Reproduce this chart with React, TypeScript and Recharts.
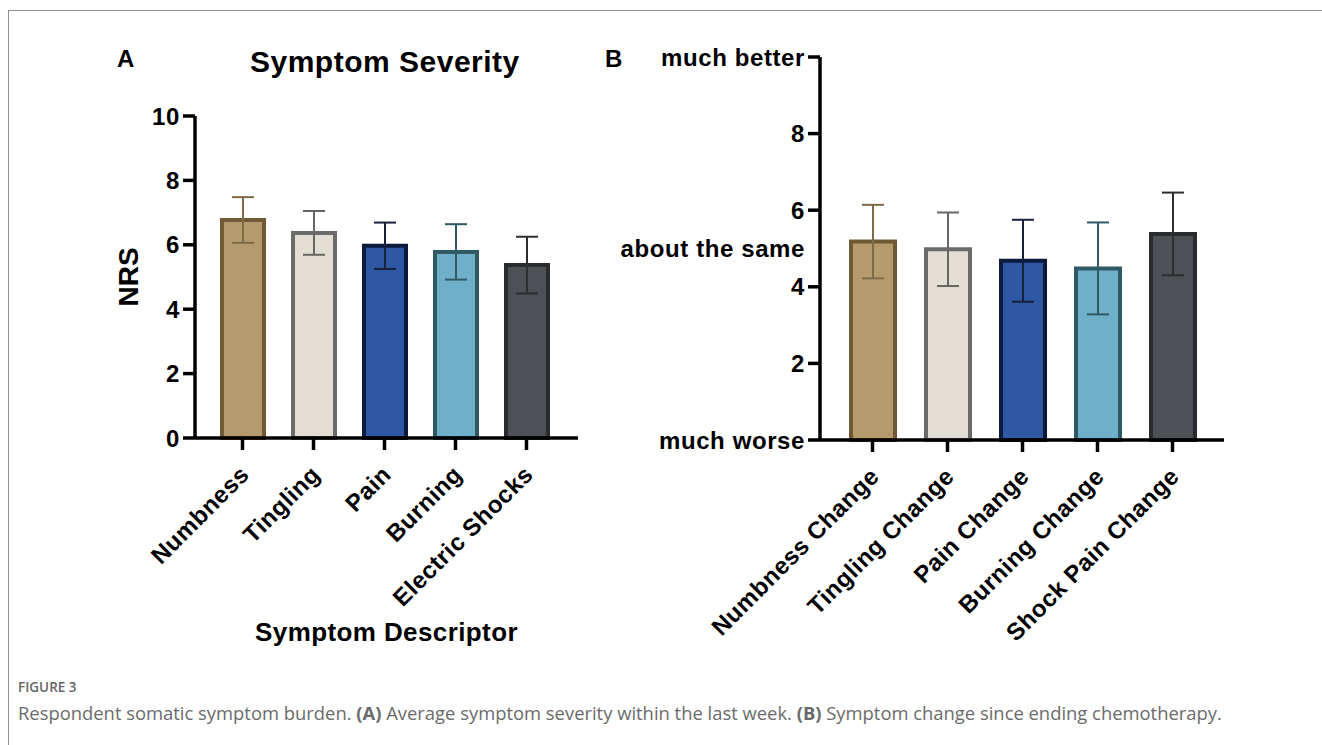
import React from 'react';
import { BarChart, Bar, XAxis, YAxis, ErrorBar, Cell, Label } from 'recharts';

// Panel A: symptom severity (NRS, mean with error)
const severityNames = ['Numbness', 'Tingling', 'Pain', 'Burning', 'Electric Shocks'];
const severityMeans = [6.77, 6.37, 5.97, 5.78, 5.37];
const severityErrors = [0.71, 0.68, 0.72, 0.86, 0.88];
const severityTicks = [0, 2, 4, 6, 8, 10];

// Panel B: symptom change since ending chemotherapy
const changeNames = ['Numbness Change', 'Tingling Change', 'Pain Change', 'Burning Change', 'Shock Pain Change'];
const changeMeans = [5.18, 4.98, 4.68, 4.48, 5.38];
const changeErrors = [0.96, 0.96, 1.07, 1.2, 1.08];
const changeTicks = [0, 2, 4, 5, 6, 8, 10];
const changeTickNames: Record<number, string> = { 0: 'much worse', 5: 'about the same', 10: 'much better' };

const barFills = ['#b59a6e', '#e2ded3', '#2e58a4', '#70afc9', '#4d5055'];
const barStrokes = ['#6f5a35', '#6b6b69', '#0c1a3c', '#2f5964', '#2a2b2e'];
const errorStrokes = ['#7d6b47', '#666663', '#17213c', '#2f5964', '#2c2d30'];

const FONT = '"Liberation Sans", Arial, sans-serif';
const AXIS = { stroke: '#000', strokeWidth: 3.5 };

const tickText: React.CSSProperties = { fontFamily: FONT, fontWeight: 700, fontSize: 24, letterSpacing: '0.6px', fill: '#000' };
const catText: React.CSSProperties = { fontFamily: FONT, fontWeight: 700, fontSize: 24, letterSpacing: '0.5px', fill: '#000' };

function buildRows(names: string[], means: number[], errors: number[]) {
  return names.map((name, i) => {
    const row: Record<string, any> = { name, mean: means[i] };
    row['err' + i] = errors[i];
    return row;
  });
}

const severityRows = buildRows(severityNames, severityMeans, severityErrors);
const changeRows = buildRows(changeNames, changeMeans, changeErrors);

const NumberTick = ({ x, y, payload }: any) => (
  <text x={x} y={y} dy="0.36em" textAnchor="end" style={tickText}>{payload.value}</text>
);

// tick line drawn here so "about the same" can go without one
const ChangeTick = ({ x, y, payload }: any) => {
  const v = payload.value;
  return (
    <g>
      {v !== 5 && <line x1={x + 3} x2={x + 15} y1={y} y2={y} stroke="#000" strokeWidth={3.5} />}
      <text x={x} y={y} dy="0.36em" textAnchor="end" style={tickText}>{changeTickNames[v] ?? v}</text>
    </g>
  );
};

const CategoryTick = ({ x, y, payload }: any) => {
  const ax = x + 8;
  const ay = y + 24;
  return (
    <text x={ax} y={ay} textAnchor="end" transform={`rotate(-45 ${ax} ${ay})`} style={catText}>{payload.value}</text>
  );
};

export default function App() {
  return (
    <div style={{ position: 'absolute', left: 0, top: 0, width: 1322, height: 745, background: '#fff', overflow: 'hidden' }}>
      <div style={{ position: 'absolute', left: 8, top: 10, right: 0, height: 800, borderTop: '1px solid #8f8f8f', borderLeft: '1px solid #8f8f8f' }} />

      <div style={{ position: 'absolute', left: 117, top: 47, fontFamily: FONT, fontWeight: 700, fontSize: 24, lineHeight: 1 }}>A</div>
      <div style={{ position: 'absolute', left: 250, top: 47, fontFamily: FONT, fontWeight: 700, fontSize: 30, lineHeight: 1, letterSpacing: '0.5px' }}>
        Symptom Severity
      </div>
      <div style={{ position: 'absolute', left: 605, top: 47, fontFamily: FONT, fontWeight: 700, fontSize: 24, lineHeight: 1 }}>B</div>

      <div style={{ position: 'absolute', left: 0, top: 0 }}>
        <BarChart width={600} height={660} data={severityRows} margin={{ top: 116, right: 22, bottom: 12, left: 61 }}>
          <XAxis
            dataKey="name"
            height={210}
            interval={0}
            padding={{ left: 12, right: 16 }}
            axisLine={AXIS}
            tickLine={AXIS}
            tickSize={12}
            tick={CategoryTick}
          >
            <Label value="Symptom Descriptor" position="insideBottom" offset={7}
              style={{ fontFamily: FONT, fontWeight: 700, fontSize: 26, fill: '#000', letterSpacing: '0.4px' }} />
          </XAxis>
          <YAxis
            type="number"
            domain={[0, 10]}
            ticks={severityTicks}
            width={134}
            interval={0}
            axisLine={AXIS}
            tickLine={AXIS}
            tickSize={12}
            tickMargin={3}
            tick={NumberTick}
          >
            <Label value="NRS" angle={-90} position="center"
              style={{ fontFamily: FONT, fontWeight: 700, fontSize: 28, fill: '#000', textAnchor: 'middle' }} />
          </YAxis>
          <Bar dataKey="mean" barSize={42} strokeWidth={4} isAnimationActive={false}>
            {severityRows.map((r, i) => (
              <Cell key={r.name} fill={barFills[i]} stroke={barStrokes[i]} />
            ))}
            {severityRows.map((r, i) => (
              <ErrorBar key={'e' + i} dataKey={'err' + i} width={11} strokeWidth={2} stroke={errorStrokes[i]} isAnimationActive={false} />
            ))}
          </Bar>
        </BarChart>
      </div>

      <div style={{ position: 'absolute', left: 600, top: 0 }}>
        <BarChart width={660} height={700} data={changeRows} margin={{ top: 57, right: 36, bottom: 40, left: 20 }}>
          <XAxis
            dataKey="name"
            height={220}
            interval={0}
            padding={{ left: 15, right: 14 }}
            axisLine={AXIS}
            tickLine={AXIS}
            tickSize={12}
            tick={CategoryTick}
          />
          <YAxis
            type="number"
            domain={[0, 10]}
            ticks={changeTicks}
            width={200}
            interval={0}
            axisLine={AXIS}
            tickLine={false}
            tickSize={12}
            tickMargin={3}
            tick={ChangeTick}
          />
          <Bar dataKey="mean" barSize={44} strokeWidth={4} isAnimationActive={false}>
            {changeRows.map((r, i) => (
              <Cell key={r.name} fill={barFills[i]} stroke={barStrokes[i]} />
            ))}
            {changeRows.map((r, i) => (
              <ErrorBar key={'e' + i} dataKey={'err' + i} width={11} strokeWidth={2} stroke={errorStrokes[i]} isAnimationActive={false} />
            ))}
          </Bar>
        </BarChart>
      </div>

      <div style={{ position: 'absolute', left: 18, top: 679, fontFamily: '"Open Sans", sans-serif', fontSize: 13.5, fontWeight: 600, color: '#666', lineHeight: '16px' }}>
        FIGURE 3
      </div>
      <div style={{ position: 'absolute', left: 18, top: 701, fontFamily: '"Open Sans", sans-serif', fontSize: 18.4, color: '#6b6b6b', lineHeight: '24px', whiteSpace: 'nowrap' }}>
        Respondent somatic symptom burden. <b>(A)</b> Average symptom severity within the last week. <b>(B)</b> Symptom change since ending chemotherapy.
      </div>
    </div>
  );
}
